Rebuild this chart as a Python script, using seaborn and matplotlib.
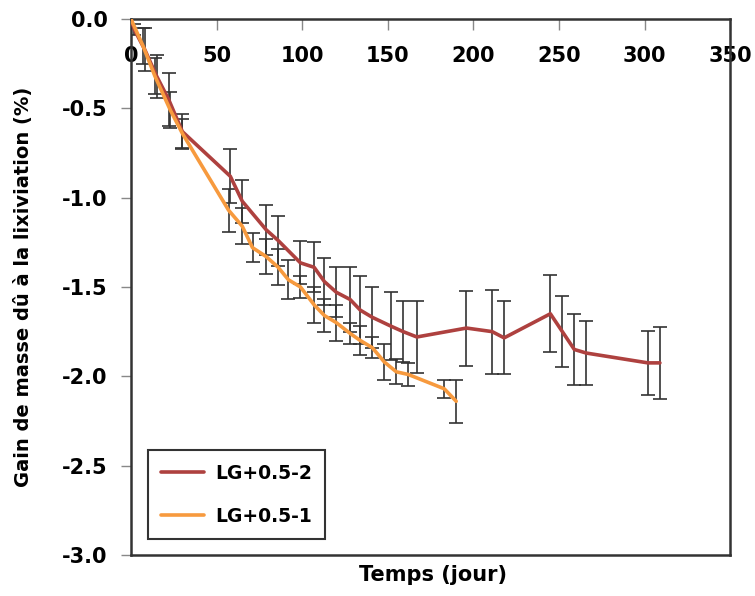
import numpy as np
import pandas as pd
import matplotlib
matplotlib.use("Agg")
import matplotlib.pyplot as plt
import seaborn as sns

# LG+0.5-2 (dark red)
days_2 = [0, 2, 8, 15, 22, 30, 58, 65, 79, 86, 99, 107, 113, 120, 128, 134, 141,
          152, 159, 167, 196, 211, 218, 245, 252, 259, 266, 302, 309]
gain_2 = [0, -0.06, -0.17, -0.32, -0.45, -0.63, -0.88, -1.02, -1.18, -1.24, -1.365,
          -1.39, -1.47, -1.53, -1.57, -1.63, -1.67, -1.72, -1.75, -1.78, -1.73, -1.75,
          -1.785, -1.65, -1.75, -1.85, -1.87, -1.925, -1.925]
err_2 = [0, 0.03, 0.12, 0.12, 0.15, 0.10, 0.15, 0.12, 0.14, 0.14, 0.12, 0.14, 0.13,
         0.14, 0.18, 0.19, 0.17, 0.19, 0.17, 0.20, 0.21, 0.235, 0.205, 0.215, 0.20,
         0.20, 0.18, 0.18, 0.20]

# LG+0.5-1 (orange)
days_1 = [0, 7, 14, 23, 30, 57, 65, 71, 79, 86, 92, 99, 107, 113, 120, 128, 134, 141,
          148, 155, 162, 183, 190]
gain_1 = [0, -0.15, -0.32, -0.51, -0.64, -1.07, -1.16, -1.28, -1.33, -1.39, -1.46,
          -1.50, -1.60, -1.66, -1.70, -1.76, -1.80, -1.84, -1.92, -1.975, -1.99, -2.07,
          -2.14]
err_1 = [0, 0.10, 0.10, 0.10, 0.08, 0.12, 0.10, 0.08, 0.10, 0.10, 0.11, 0.06, 0.10,
         0.09, 0.10, 0.06, 0.08, 0.06, 0.10, 0.07, 0.065, 0.05, 0.12]

series_names = ["LG+0.5-2", "LG+0.5-1"]
colors = ["#AE413F", "#F79A3E"]

df = pd.concat([
    pd.DataFrame({"jour": days_2, "gain": gain_2, "err": err_2, "serie": series_names[0]}),
    pd.DataFrame({"jour": days_1, "gain": gain_1, "err": err_1, "serie": series_names[1]}),
])

sns.set_style("white")
plt.rcParams["font.family"] = ["DejaVu Sans"]
plt.rcParams["font.weight"] = "bold"
plt.rcParams["text.color"] = "black"
plt.rcParams["axes.labelcolor"] = "black"
plt.rcParams["xtick.labelcolor"] = "black"
plt.rcParams["ytick.labelcolor"] = "black"

fig = plt.figure(figsize=(7.55, 5.96), dpi=100)
ax = fig.add_axes([0.1735, 0.069, 0.7935, 0.899])

# error bars
for name in series_names:
    d = df[df["serie"] == name]
    ax.errorbar(d["jour"], d["gain"], yerr=d["err"], fmt="none", ecolor="#333333",
                elinewidth=1.2, capsize=5, capthick=1.2, zorder=2)

sns.lineplot(data=df, x="jour", y="gain", hue="serie", hue_order=series_names,
             palette=colors, linewidth=2.6, ax=ax, zorder=3, sort=False)

ax.set_xlim(0, 350)
ax.set_ylim(-3.0, 0.0)
ax.set_xticks(np.arange(0, 351, 50))
ax.set_yticks(np.arange(-3.0, 0.01, 0.5))
ax.set_yticklabels([f"{v:.1f}" for v in np.arange(-3.0, 0.01, 0.5)])

ax.xaxis.set_ticks_position("top")
ax.tick_params(axis="x", top=True, bottom=False, labeltop=True, labelbottom=False,
               direction="in", length=8, width=1, color="#888888", pad=-34,
               labelsize=15, labelcolor="black")
ax.tick_params(axis="y", left=True, direction="out", length=7, width=1,
               color="#888888", labelsize=15, pad=10, labelcolor="black")

for s in ax.spines.values():
    s.set_color("#333333")
    s.set_linewidth(1.8)

ax.set_ylabel("Gain de masse dû à la lixiviation (%)", fontsize=14, fontweight="bold",
              color="black")
ax.yaxis.set_label_coords(-0.163, 0.5)
ax.xaxis.set_label_position("bottom")
ax.set_xlabel("Temps (jour)", fontsize=15, fontweight="bold", color="black")
ax.xaxis.set_label_coords(0.504, -0.018)

leg = ax.legend(loc="lower left", bbox_to_anchor=(0.012, 0.012), fontsize=13.5,
                frameon=True, fancybox=False, handlelength=2.3, labelspacing=1.3,
                borderpad=0.7, handletextpad=0.6)
leg.get_frame().set_edgecolor("black")
leg.get_frame().set_linewidth(1.5)
for t in leg.get_texts():
    t.set_color("black")

fig.savefig("out.png", dpi=100)
